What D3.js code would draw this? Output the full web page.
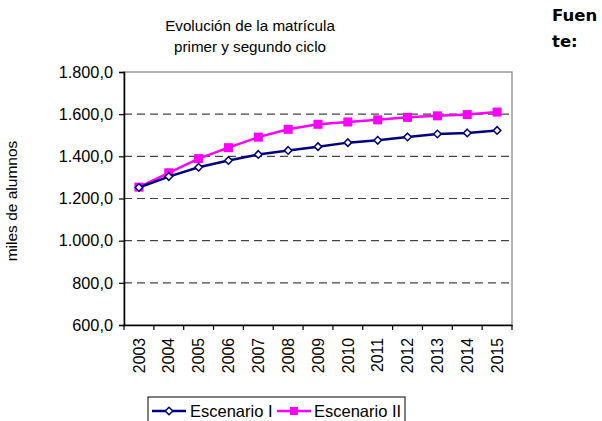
<!DOCTYPE html>
<html><head><meta charset="utf-8">
<script src="https://cdn.jsdelivr.net/npm/d3@7"></script>
<style>body{margin:0;background:#fff}svg{display:block}</style>
</head><body>
<svg id="c" width="602" height="421"></svg>
<script>
const years = ["2003","2004","2005","2006","2007","2008","2009","2010","2011","2012","2013","2014","2015"];
const escenarioI  = [1252,1304,1348,1380,1409,1428,1446,1465,1476,1492,1506,1511,1523];
const escenarioII = [1254,1322,1389,1441,1491,1528,1552,1563,1573,1585,1592,1598,1610];
const yTicks = [600,800,1000,1200,1400,1600,1800];
const titleLines = ["Evolución de la matrícula","primer y segundo ciclo"];
const seriesNames = ["Escenario I","Escenario II"];

const svg = d3.select("#c");
const L=124,R=512,T=72,B=325;
const x = d3.scaleBand().domain(years).range([L,R]);
const y = d3.scaleLinear().domain([600,1800]).range([B,T]);
const fmt = v => d3.formatLocale({decimal:",",thousands:".",grouping:[3]}).format(",.1f")(v);
const font = "Liberation Sans, Arial, sans-serif";

// plot frame
svg.append("rect").attr("x",L).attr("y",T).attr("width",R-L).attr("height",B-T)
  .attr("fill","#fff").attr("stroke","#808080").attr("stroke-width",1.2);
// gridlines
svg.append("g").selectAll("line").data(yTicks.filter(v=>v>600&&v<1800)).join("line")
  .attr("x1",L).attr("x2",R).attr("y1",d=>y(d)).attr("y2",d=>y(d))
  .attr("stroke","#444").attr("stroke-width",1.2).attr("stroke-dasharray","8,5");

// y axis
const ya = svg.append("g").attr("transform",`translate(${L},0)`)
  .call(d3.axisLeft(y).tickValues(yTicks).tickFormat(fmt).tickSize(5).tickPadding(6));
ya.select(".domain").attr("stroke","#000").attr("stroke-width",1.5);
ya.selectAll(".tick line").attr("stroke","#000").attr("stroke-width",1.2);
ya.selectAll("text").attr("font-family",font).attr("font-size",16.3).attr("fill","#000");

// x axis
const xa = svg.append("g").attr("transform",`translate(0,${B})`)
  .call(d3.axisBottom(x).tickSizeOuter(0).tickSize(0));
xa.select(".domain").attr("stroke","#000").attr("stroke-width",1.5);
xa.selectAll(".tick text").attr("font-family",font).attr("font-size",15.8).attr("fill","#000")
  .attr("transform","rotate(-90)").attr("text-anchor","end").attr("x",-13).attr("y",0).attr("dy","0.36em");
// x boundary ticks
svg.append("g").selectAll("line").data(d3.range(years.length+1)).join("line")
  .attr("x1",i=>L+i*x.step()).attr("x2",i=>L+i*x.step()).attr("y1",B).attr("y2",B+5)
  .attr("stroke","#000").attr("stroke-width",1.2);

const cx = d => x(d)+x.bandwidth()/2;
const line = d3.line().x((d,i)=>cx(years[i])).y(d=>y(d));

// series II
svg.append("path").datum(escenarioII).attr("d",line).attr("fill","none")
  .attr("stroke","#ff00ff").attr("stroke-width",2.5);
svg.append("g").selectAll("rect").data(escenarioII).join("rect")
  .attr("x",(d,i)=>cx(years[i])-4.5).attr("y",d=>y(d)-4.5).attr("width",9).attr("height",9)
  .attr("fill","#ff00ff");
// series I
svg.append("path").datum(escenarioI).attr("d",line).attr("fill","none")
  .attr("stroke","#000080").attr("stroke-width",2.5);
const diamond = d3.symbol().type(d3.symbolDiamond2).size(36);
svg.append("g").selectAll("path").data(escenarioI).join("path")
  .attr("d",diamond).attr("transform",(d,i)=>`translate(${cx(years[i])},${y(d)})`)
  .attr("fill","#fff").attr("stroke","#000080").attr("stroke-width",1.5);

// title
svg.append("g").selectAll("text").data(titleLines).join("text")
  .attr("x",250).attr("y",(d,i)=>31+i*21).attr("text-anchor","middle")
  .attr("font-family",font).attr("font-size",15.2).attr("fill","#000").text(d=>d);

// y title
svg.append("text").attr("transform","translate(17,201) rotate(-90)").attr("text-anchor","middle")
  .attr("font-family",font).attr("font-size",15.5).attr("fill","#000").text("miles de alumnos");

// Fuente
const fuente = ["Fuen","te:"];
svg.append("g").selectAll("text").data(fuente).join("text")
  .attr("x",552).attr("y",(d,i)=>21+i*26).attr("font-family","DejaVu Sans, sans-serif")
  .attr("font-weight","bold").attr("font-size",16.5).attr("fill","#000").text(d=>d);

// legend
const lg = svg.append("g");
lg.append("rect").attr("x",148).attr("y",397).attr("width",257).attr("height",30)
  .attr("fill","#fff").attr("stroke","#000").attr("stroke-width",1);
const items = [{n:seriesNames[0],c:"#000080",x0:152,tx:190},{n:seriesNames[1],c:"#ff00ff",x0:277,tx:314}];
items.forEach((it,k)=>{
  lg.append("line").attr("x1",it.x0).attr("x2",it.x0+34).attr("y1",411).attr("y2",411)
    .attr("stroke",it.c).attr("stroke-width",2.5);
  if(k===0){
    lg.append("path").attr("d",diamond).attr("transform",`translate(${it.x0+17},411)`)
      .attr("fill","#fff").attr("stroke",it.c).attr("stroke-width",1.5);
  } else {
    lg.append("rect").attr("x",it.x0+13).attr("y",407).attr("width",8).attr("height",8).attr("fill",it.c);
  }
  lg.append("text").attr("x",it.tx).attr("y",417).attr("font-family",font).attr("font-size",16.5)
    .attr("fill","#000").text(it.n);
});
</script>
</body></html>
